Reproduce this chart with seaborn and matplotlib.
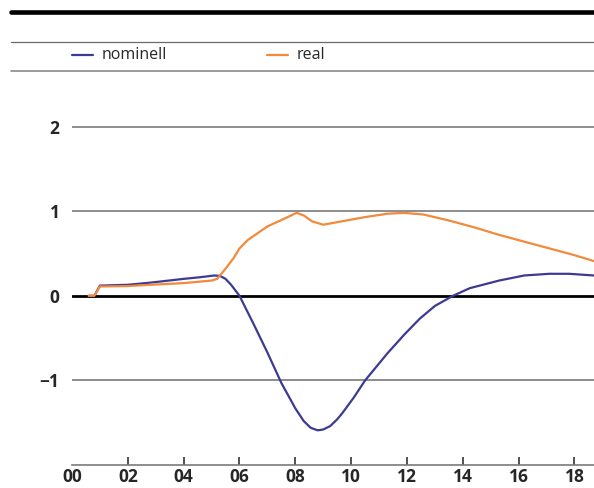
import matplotlib
import matplotlib.pyplot as plt
import pandas as pd
import seaborn as sns
from matplotlib.lines import Line2D

matplotlib.use("Agg")

# ---------------------------------------------------------------------------
# Data
# ---------------------------------------------------------------------------
nominell_years = [0.6, 0.8, 1.0, 2.0, 2.8, 4.0, 4.6, 5.1, 5.3, 5.5, 5.7, 6.0, 6.5,
                  7.0, 7.5, 8.0, 8.3, 8.55, 8.8, 9.0, 9.25, 9.5, 9.7, 10.1, 10.5,
                  11.3, 11.9, 12.46, 13.0, 13.65, 14.25, 15.3, 16.2, 17.1, 17.8,
                  18.7]
nominell_values = [0.0, 0.0, 0.12, 0.13, 0.155, 0.20, 0.22, 0.24, 0.235, 0.20,
                   0.13, 0.0, -0.33, -0.67, -1.03, -1.33, -1.48, -1.56, -1.59,
                   -1.58, -1.54, -1.46, -1.38, -1.20, -1.0, -0.68, -0.46, -0.27,
                   -0.12, 0.0, 0.09, 0.18, 0.24, 0.26, 0.26, 0.24]

real_years = [0.6, 0.8, 1.0, 2.0, 2.8, 4.0, 5.0, 5.2, 5.5, 5.8, 6.0, 6.3, 7.0, 7.6,
              7.85, 8.05, 8.3, 8.6, 9.0, 9.5, 10.5, 11.3, 11.9, 12.6, 13.5, 14.4,
              15.3, 16.2, 17.1, 18.0, 18.7]
real_values = [0.0, 0.0, 0.11, 0.115, 0.13, 0.15, 0.18, 0.20, 0.32, 0.45, 0.56,
               0.66, 0.82, 0.91, 0.95, 0.98, 0.95, 0.88, 0.84, 0.87, 0.93, 0.97,
               0.98, 0.96, 0.89, 0.81, 0.72, 0.64, 0.56, 0.48, 0.41]

series_names = ["nominell", "real"]
series_colors = ["#3d3a96", "#f08a3c"]

x_ticks = list(range(0, 19, 2))
x_labels = [f"{t:02d}" for t in x_ticks]
y_grid = [-1, 1, 2]
y_ticks = [-1, 0, 1, 2]
y_labels = ["\u22121", "0", "1", "2"]

# ---------------------------------------------------------------------------
# Plot
# ---------------------------------------------------------------------------
df = pd.concat([
    pd.DataFrame({"year": nominell_years, "value": nominell_values, "serie": "nominell"}),
    pd.DataFrame({"year": real_years, "value": real_values, "serie": "real"}),
])

sns.set_style("white")
plt.rcParams["font.family"] = ["Open Sans", "DejaVu Sans"]

fig = plt.figure(figsize=(5.94, 4.88), dpi=100)
ax = fig.add_axes([0.1212, 0.0471, 0.8788, 0.7889])

for y in y_grid:
    ax.axhline(y, color="#7a7a7a", lw=1.2, zorder=1)
ax.axhline(0, color="black", lw=2.0, zorder=1)

sns.lineplot(data=df, x="year", y="value", hue="serie", hue_order=series_names,
             palette=series_colors, estimator=None, sort=True, lw=1.6,
             legend=False, ax=ax, zorder=3)

ax.set_xlim(0, 18.7)
ax.set_ylim(-2, 2.55)
ax.set_xlabel("")
ax.set_ylabel("")

for side in ["top", "right", "left"]:
    ax.spines[side].set_visible(False)
ax.spines["bottom"].set_color("#7a7a7a")
ax.spines["bottom"].set_linewidth(1.2)

ax.set_xticks(x_ticks)
ax.set_xticklabels(x_labels, fontsize=12.5, fontweight="bold")
ax.tick_params(axis="x", bottom=True, direction="in", length=6, width=1.1,
               color="#222222", pad=2)
ax.xaxis.get_major_ticks()[0].tick1line.set_visible(False)

ax.set_yticks(y_ticks)
ax.set_yticklabels(y_labels, fontsize=12.5, fontweight="bold")
ax.tick_params(axis="y", length=0, pad=9)

# header rules and legend row
fig.add_artist(Line2D([0.0185, 1.0], [0.9758, 0.9758], color="black", lw=3.3,
                      transform=fig.transFigure))
fig.add_artist(Line2D([0.0185, 1.0], [0.9145, 0.9145], color="#6a6a6a", lw=0.9,
                      transform=fig.transFigure))
fig.add_artist(Line2D([0.0185, 1.0], [0.8545, 0.8545], color="#8a8a8a", lw=1.2,
                      transform=fig.transFigure))

legend_x = [(0.1212, 0.1566, 0.1717), (0.4495, 0.4848, 0.5)]
for name, color, (x0, x1, xt) in zip(series_names, series_colors, legend_x):
    fig.add_artist(Line2D([x0, x1], [0.887, 0.887], color=color, lw=1.6,
                          transform=fig.transFigure))
    fig.text(xt, 0.887, name, fontsize=11.5, va="center", ha="left")

fig.savefig("out.png", dpi=100)
